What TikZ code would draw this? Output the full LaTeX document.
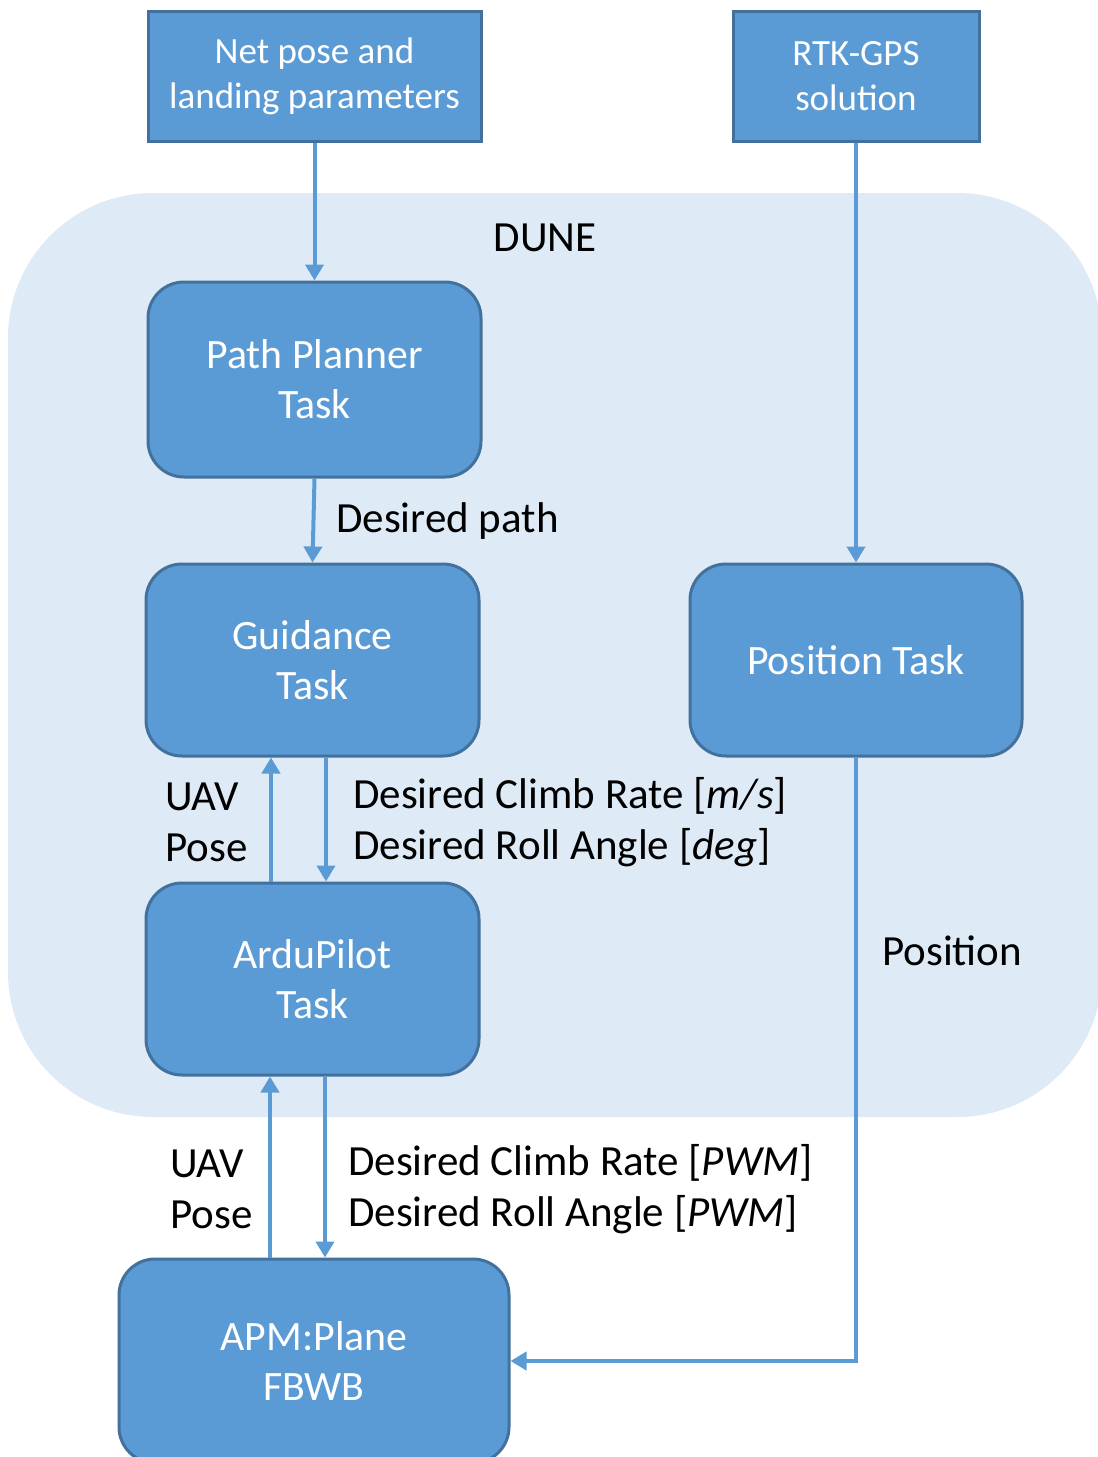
\documentclass[tikz,border=0pt]{standalone}
\usepackage{fontspec}
\setmainfont{Carlito}
\usetikzlibrary{arrows.meta}
\definecolor{boxfill}{HTML}{5B9BD5}
\definecolor{boxline}{HTML}{41719C}
\definecolor{duneback}{HTML}{DEEAF6}
\tikzset{
  inbox/.style={draw=boxline, line width=3pt, fill=boxfill, text=white,
    align=center, inner sep=0pt, font=\fontsize{37}{45}\selectfont},
  taskbox/.style={draw=boxline, line width=3pt, fill=boxfill, text=white,
    rounded corners=36pt, align=center, inner sep=0pt,
    font=\fontsize{41.8}{50}\selectfont},
  flow/.style={draw=boxfill, line width=4pt,
    -{Triangle[width=18pt,length=16pt]}},
  lbl/.style={text=black, inner sep=0pt, align=left, anchor=west,
    font=\fontsize{43}{51}\selectfont}
}
\begin{document}
\begin{tikzpicture}[x=1pt,y=-1pt]
\useasboundingbox (0,0) rectangle (1098,1457);
\begin{scope}
  \clip (0,0) rectangle (1098,1457);
  % DUNE region
  \fill[duneback, rounded corners=145pt] (8,193) rectangle (1102,1117);
  \node[text=black, font=\fontsize{43}{50}\selectfont] (dune) at (545,238) {DUNE};

  % inputs
  \node[inbox, minimum width=333pt, minimum height=130pt] (net) at (314.5,76)
    {Net pose and\\landing parameters};
  \node[inbox, minimum width=246pt, minimum height=130pt] (rtk) at (856,76)
    {RTK-GPS\\solution};

  % tasks
  \node[taskbox, minimum width=333pt, minimum height=195pt] (pp) at (314.5,379.5)
    {Path Planner\\Task};
  \node[taskbox, minimum width=333pt, minimum height=192pt] (gd) at (312.5,660)
    {Guidance\\Task};
  \node[taskbox, minimum width=332pt, minimum height=192pt] (pos) at (856,660)
    {Position Task};
  \node[taskbox, minimum width=333pt, minimum height=192pt] (ard) at (312.5,979)
    {ArduPilot\\Task};
  \node[taskbox, minimum width=390pt, minimum height=204pt] (apm) at (314,1361)
    {APM:Plane\\FBWB};
\end{scope}

% connectors
\draw[flow] (net.south) -- (pp.north);
\draw[flow] (pp.south) -- (gd.north);
\draw[flow] (rtk.south) -- (pos.north);
\draw[flow] ([xshift=-41.5pt]ard.north) -- ([xshift=-41.5pt]gd.south);
\draw[flow] ([xshift=13.5pt]gd.south) -- ([xshift=13.5pt]ard.north);
\draw[flow] ([xshift=-44pt]apm.north) -- ([xshift=-42.5pt]ard.south);
\draw[flow] ([xshift=12.5pt]ard.south) -- ([xshift=11pt]apm.north);
\draw[flow] (pos.south) |- (apm.east);

% connector labels
\node[lbl] (lpath) at (336,521) {Desired path};
\node[lbl] (lpose1) at (165,822) {UAV\\Pose};
\node[lbl] (lrate1) at (353,822) {Desired Climb Rate [\textit{m/s}]\\Desired Roll Angle [\textit{deg}]};
\node[lbl] (lpose2) at (170,1189) {UAV\\Pose};
\node[lbl] (lrate2) at (348,1189) {Desired Climb Rate [\textit{PWM}]\\Desired Roll Angle [\textit{PWM}]};
\node[lbl] (lpos) at (882,951) {Position};
\end{tikzpicture}
\end{document}
